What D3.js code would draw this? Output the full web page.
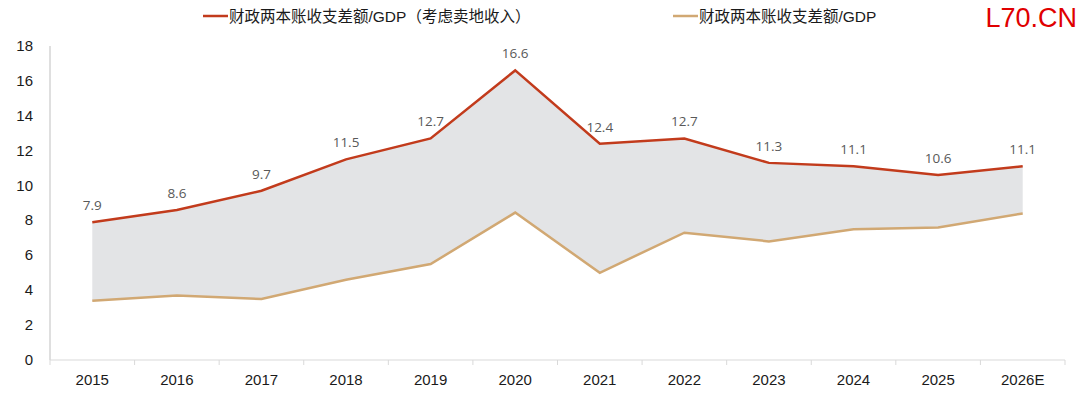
<!DOCTYPE html>
<html>
<head>
<meta charset="utf-8">
<script src="https://cdn.jsdelivr.net/npm/d3@7"></script>
<style>
  body { margin: 0; background: #fff; }
  svg { display: block; }
</style>
</head>
<body>
<div id="canvas"></div>
<script>
// data
const years = ['2015', '2016', '2017', '2018', '2019', '2020', '2021', '2022', '2023', '2024', '2025', '2026E'];
const withLand = [7.9, 8.6, 9.7, 11.5, 12.7, 16.6, 12.4, 12.7, 11.3, 11.1, 10.6, 11.1];
const withoutLand = [3.4, 3.7, 3.5, 4.6, 5.5, 8.45, 5.0, 7.3, 6.8, 7.5, 7.6, 8.4];
const yTicks = [0, 2, 4, 6, 8, 10, 12, 14, 16, 18];
const legendNames = ['财政两本账收支差额/GDP（考虑卖地收入）', '财政两本账收支差额/GDP'];

const width = 1080, height = 393;
const redColor = '#C23B1C', tanColor = '#D1A873';

const svg = d3.select('#canvas').append('svg')
    .attr('width', width)
    .attr('height', height);

const x = d3.scaleBand().domain(years).range([50, 1065]);
const y = d3.scaleLinear().domain([0, 18]).range([360, 46]);
const cx = function (d) { return x(d) + x.bandwidth() / 2; };

const rows = years.map(function (yr, i) {
    return { year: yr, hi: withLand[i], lo: withoutLand[i] };
});

// shaded band between the two series
svg.append('path')
    .datum(rows)
    .attr('fill', '#E3E4E6')
    .attr('d', d3.area()
        .x(function (d) { return cx(d.year); })
        .y0(function (d) { return y(d.lo); })
        .y1(function (d) { return y(d.hi); }));

// axes
svg.append('line')
    .attr('x1', 50).attr('x2', 50)
    .attr('y1', y(18)).attr('y2', y(0))
    .attr('stroke', '#BFBFBF');

const xAxis = svg.append('g')
    .attr('transform', 'translate(0,' + y(0) + ')');
xAxis.append('line')
    .attr('x1', 50).attr('x2', 1065)
    .attr('stroke', '#D9D9D9');
xAxis.selectAll('.tk')
    .data(years.concat(['end']))
    .enter().append('line')
    .attr('x1', function (d, i) { return 50 + i * x.step(); })
    .attr('x2', function (d, i) { return 50 + i * x.step(); })
    .attr('y1', 0).attr('y2', 5)
    .attr('stroke', '#D9D9D9');
xAxis.selectAll('text')
    .data(years)
    .enter().append('text')
    .attr('x', cx)
    .attr('y', 25)
    .attr('text-anchor', 'middle')
    .style('font-family', 'Liberation Sans, Arial, sans-serif')
    .style('font-size', '15px')
    .style('fill', '#1a1a1a')
    .text(function (d) { return d; });

svg.append('g').selectAll('text')
    .data(yTicks)
    .enter().append('text')
    .attr('x', 33)
    .attr('y', function (d) { return y(d) + 5; })
    .attr('text-anchor', 'end')
    .style('font-family', 'Liberation Sans, Arial, sans-serif')
    .style('font-size', '15px')
    .style('fill', '#1a1a1a')
    .text(function (d) { return d; });

// lines
const line = d3.line()
    .x(function (d) { return cx(d.year); });

svg.append('path')
    .datum(rows)
    .attr('fill', 'none')
    .attr('stroke', tanColor)
    .attr('stroke-width', 2.5)
    .attr('d', line.y(function (d) { return y(d.lo); }));

svg.append('path')
    .datum(rows)
    .attr('fill', 'none')
    .attr('stroke', redColor)
    .attr('stroke-width', 2.5)
    .attr('d', line.y(function (d) { return y(d.hi); }));

// value labels
svg.append('g').selectAll('text')
    .data(rows)
    .enter().append('text')
    .attr('x', function (d) { return cx(d.year); })
    .attr('y', function (d) { return y(d.hi) - 12; })
    .attr('text-anchor', 'middle')
    .style('font-family', 'Open Sans, sans-serif')
    .style('font-size', '13.5px')
    .style('fill', '#595959')
    .text(function (d) { return d.hi.toFixed(1); });

// legend
const legend = [
    { name: legendNames[0], color: redColor, x: 203 },
    { name: legendNames[1], color: tanColor, x: 673 }
];
const lg = svg.append('g').selectAll('g')
    .data(legend)
    .enter().append('g')
    .attr('transform', function (d) { return 'translate(' + d.x + ',16)'; });
lg.append('line')
    .attr('x1', 0).attr('x2', 25)
    .attr('stroke', function (d) { return d.color; })
    .attr('stroke-width', 2.5);
lg.append('text')
    .attr('x', 26)
    .attr('y', 5.5)
    .style('font-family', 'Liberation Sans, Noto Sans CJK SC, sans-serif')
    .style('font-size', '15.5px')
    .style('fill', '#1a1a1a')
    .text(function (d) { return d.name; });

// watermark
svg.append('text')
    .attr('x', 1077)
    .attr('y', 27)
    .attr('text-anchor', 'end')
    .style('font-family', 'Liberation Sans, Arial, sans-serif')
    .style('font-size', '27px')
    .style('fill', '#E00000')
    .text('L70.CN');
</script>
</body>
</html>
